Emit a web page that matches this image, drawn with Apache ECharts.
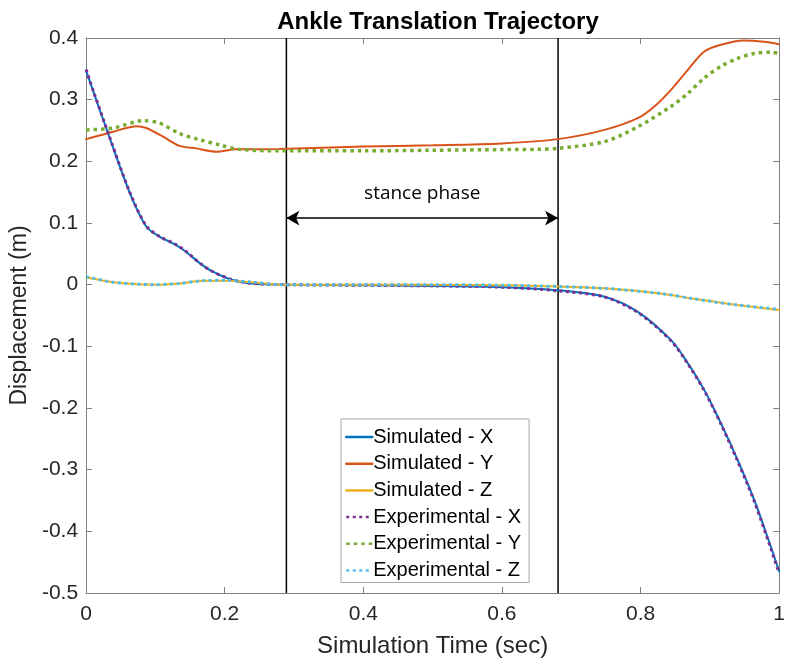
<!DOCTYPE html>
<html>
<head>
<meta charset="utf-8">
<script src="https://cdn.jsdelivr.net/npm/echarts@6/dist/echarts.min.js"></script>
<style>
  html, body { margin: 0; padding: 0; background: #fff; }
  #chart { width: 788px; height: 667px; }
</style>
</head>
<body>
<div id="chart"></div>
<script>
// Ankle translation (m) versus simulation time (s)
const simXTime = [0, 0.0105, 0.035, 0.063, 0.087, 0.106, 0.13, 0.144, 0.164, 0.183, 0.211, 0.24, 0.29, 0.4, 0.5, 0.6, 0.681, 0.748, 0.796, 0.844, 0.868, 0.892, 0.916, 0.94, 0.964, 0.988, 1];
const simX     = [0.347, 0.313, 0.235, 0.149, 0.094, 0.078, 0.064, 0.0535, 0.035, 0.021, 0.0076, 0.002, 0.0, -0.001, -0.002, -0.004, -0.009, -0.0195, -0.044, -0.09, -0.127, -0.171, -0.225, -0.284, -0.349, -0.425, -0.465];
const expX     = [0.349, 0.314, 0.236, 0.150, 0.095, 0.078, 0.065, 0.054, 0.035, 0.021, 0.008, 0.002, 0.0, -0.001, -0.002, -0.004, -0.010, -0.020, -0.045, -0.091, -0.128, -0.172, -0.226, -0.286, -0.351, -0.428, -0.468];

const simYTime = [0, 0.039, 0.073, 0.087, 0.111, 0.135, 0.159, 0.188, 0.216, 0.279, 0.4, 0.5, 0.6, 0.681, 0.748, 0.796, 0.82, 0.844, 0.868, 0.892, 0.916, 0.949, 0.978, 1];
const simY     = [0.236, 0.248, 0.257, 0.254, 0.240, 0.225, 0.221, 0.2157, 0.2195, 0.220, 0.224, 0.226, 0.229, 0.236, 0.251, 0.270, 0.289, 0.316, 0.348, 0.378, 0.389, 0.396, 0.394, 0.390];

const expYTime = [0, 0.039, 0.083, 0.106, 0.135, 0.164, 0.193, 0.221, 0.279, 0.4, 0.5, 0.6, 0.652, 0.681, 0.748, 0.796, 0.844, 0.868, 0.892, 0.916, 0.94, 0.964, 0.988, 1];
const expY     = [0.251, 0.254, 0.266, 0.262, 0.245, 0.235, 0.2265, 0.2195, 0.217, 0.217, 0.218, 0.219, 0.2195, 0.221, 0.232, 0.256, 0.289, 0.310, 0.335, 0.354, 0.367, 0.375, 0.377, 0.375];

const zTime = [0, 0.039, 0.097, 0.135, 0.168, 0.202, 0.24, 0.279, 0.4, 0.5, 0.6, 0.652, 0.681, 0.748, 0.834, 0.877, 0.906, 0.94, 1];
const simZ  = [0.012, 0.004, 0.0, 0.002, 0.0065, 0.0065, 0.004, 0.0, 0.0, 0.0, -0.001, -0.002, -0.003, -0.006, -0.015, -0.023, -0.0275, -0.033, -0.041];
const expZ  = [0.013, 0.004, 0.0, 0.002, 0.0065, 0.007, 0.004, 0.0, 0.0, 0.0, -0.001, -0.002, -0.003, -0.006, -0.015, -0.023, -0.028, -0.033, -0.040];

// Stance phase boundaries (s) and the height of the span arrow (m)
const stanceStart = 0.289;
const stanceEnd = 0.681;
const arrowLevel = 0.108;

const seriesNames = ['Simulated - X', 'Simulated - Y', 'Simulated - Z', 'Experimental - X', 'Experimental - Y', 'Experimental - Z'];

const pairs = (t, v) => t.map((x, i) => [x, v[i]]);

const FONT = '"Liberation Sans", Arial, sans-serif';
const AXIS_GRAY = '#808080';
const TEXT = '#262626';

function curve(name, t, v, color, width, dash) {
  return {
    name, type: 'line', data: pairs(t, v),
    smooth: 0.3, symbol: 'none', showSymbol: false,
    lineStyle: { color, width, type: dash || 'solid', cap: dash ? 'butt' : 'round' },
    itemStyle: { color },
    emphasis: { disabled: true },
    z: dash ? 4 : 3
  };
}

function boundary(name, x) {
  return {
    name, type: 'line', data: [[x, -0.5], [x, 0.4]],
    symbol: 'none', silent: true,
    lineStyle: { color: '#000', width: 1.5 },
    z: 2
  };
}

const chart = echarts.init(document.getElementById('chart'), null, { renderer: 'canvas' });

chart.setOption({
  animation: false,
  backgroundColor: '#fff',
  title: {
    text: 'Ankle Translation Trajectory',
    left: 433, top: 5, textAlign: 'center',
    textStyle: { fontFamily: FONT, fontSize: 24, fontWeight: 'bold', color: '#000' }
  },
  grid: { left: 86, top: 38, right: 6, bottom: 74, containLabel: false },
  legend: {
    data: seriesNames,
    orient: 'vertical',
    left: 341, top: 419,
    backgroundColor: '#fff',
    borderColor: '#a6a6a6', borderWidth: 1, borderRadius: 0,
    padding: [8, 8, 2, 4],
    itemWidth: 26, itemHeight: 20, itemGap: 6.7,
    itemStyle: { opacity: 0 },
    lineStyle: { width: 2.5 },
    textStyle: { fontFamily: FONT, fontSize: 20, color: '#000', padding: [0, 0, 0, -4] },
    selectedMode: false
  },
  xAxis: [{
    type: 'value', min: 0, max: 1, interval: 0.2,
    name: 'Simulation Time (sec)', nameLocation: 'middle', nameGap: 41,
    nameTextStyle: { fontFamily: FONT, fontSize: 24, color: TEXT },
    axisLine: { show: true, onZero: false, lineStyle: { color: AXIS_GRAY, width: 1 } },
    axisTick: { show: true, inside: true, length: 6, lineStyle: { color: AXIS_GRAY } },
    axisLabel: { fontFamily: FONT, fontSize: 21, color: TEXT, margin: 11,
      formatter: v => (v === 0 || v === 1) ? String(v) : v.toFixed(1) },
    splitLine: { show: false }
  }, {
    type: 'value', min: 0, max: 1, interval: 0.2, position: 'top',
    axisLine: { show: true, onZero: false, lineStyle: { color: AXIS_GRAY, width: 1 } },
    axisTick: { show: true, inside: true, length: 6, lineStyle: { color: AXIS_GRAY } },
    axisLabel: { show: false }, splitLine: { show: false }
  }],
  yAxis: [{
    type: 'value', min: -0.5, max: 0.4, interval: 0.1,
    name: 'Displacement (m)', nameLocation: 'middle', nameGap: 54,
    nameTextStyle: { fontFamily: FONT, fontSize: 23, color: TEXT },
    axisLine: { show: true, onZero: false, lineStyle: { color: AXIS_GRAY, width: 1 } },
    axisTick: { show: true, inside: true, length: 6, lineStyle: { color: AXIS_GRAY } },
    axisLabel: { fontFamily: FONT, fontSize: 21, color: TEXT, margin: 8,
      formatter: v => Math.abs(v) < 1e-9 ? '0' : v.toFixed(1) },
    splitLine: { show: false }
  }, {
    type: 'value', min: -0.5, max: 0.4, interval: 0.1, position: 'right',
    axisLine: { show: true, onZero: false, lineStyle: { color: AXIS_GRAY, width: 1 } },
    axisTick: { show: true, inside: true, length: 6, lineStyle: { color: AXIS_GRAY } },
    axisLabel: { show: false }, splitLine: { show: false }
  }],
  series: [
    boundary('stance start', stanceStart),
    {
      ...boundary('stance end', stanceEnd),
      markLine: {
        silent: true,
        symbol: ['arrow', 'arrow'], symbolSize: [11, 13],
        lineStyle: { color: '#000', width: 1.5, type: 'solid' },
        label: {
          show: true, position: 'insideMiddleTop', distance: 15,
          formatter: 'stance phase',
          fontFamily: '"Open Sans", "Noto Sans", sans-serif', fontSize: 19, color: '#000'
        },
        data: [[{ coord: [stanceStart, arrowLevel] }, { coord: [stanceEnd, arrowLevel] }]]
      }
    },
    curve('Simulated - X', simXTime, simX, '#0072BD', 2),
    curve('Simulated - Y', simYTime, simY, '#D95319', 2),
    curve('Simulated - Z', zTime, simZ, '#EDB120', 2),
    curve('Experimental - X', simXTime, expX, '#7E2F8E', 3, [3, 3.5]),
    curve('Experimental - Y', expYTime, expY, '#77AC30', 3.5, [3.5, 4]),
    curve('Experimental - Z', zTime, expZ, '#4DBEEE', 3, [3, 3.5])
  ]
});
</script>
</body>
</html>
